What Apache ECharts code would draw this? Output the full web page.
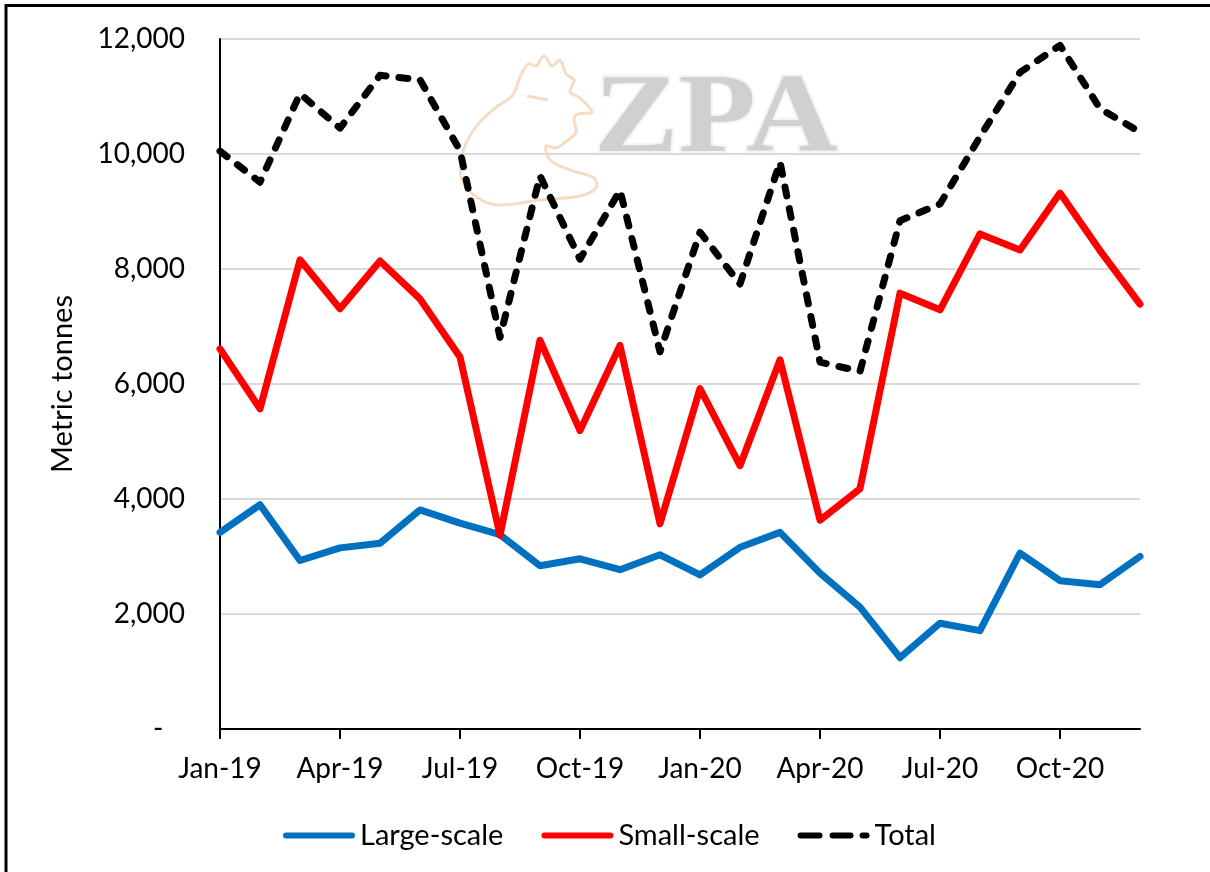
<!DOCTYPE html>
<html>
<head>
<meta charset="utf-8">
<script src="https://cdn.jsdelivr.net/npm/echarts@6/dist/echarts.min.js"></script>
<style>
html,body{margin:0;padding:0;background:#fff;}
#chart{width:1210px;height:872px;}
</style>
</head>
<body>
<div id="chart"></div>
<script>
const months = ['Jan-19','Feb-19','Mar-19','Apr-19','May-19','Jun-19','Jul-19','Aug-19','Sep-19','Oct-19','Nov-19','Dec-19',
                'Jan-20','Feb-20','Mar-20','Apr-20','May-20','Jun-20','Jul-20','Aug-20','Sep-20','Oct-20','Nov-20','Dec-20'];
const largeScale = [3420, 3900, 2930, 3150, 3230, 3810, 3580, 3380, 2840, 2960, 2770, 3030,
                    2680, 3160, 3420, 2710, 2120, 1240, 1840, 1710, 3060, 2580, 2510, 3000];
const smallScale = [6610, 5570, 8160, 7310, 8140, 7480, 6470, 3370, 6760, 5190, 6670, 3570,
                    5920, 4580, 6420, 3630, 4180, 7580, 7290, 8610, 8330, 9320, 8320, 7390];
const total = [10050, 9510, 11050, 10450, 11370, 11290, 10060, 6810, 9620, 8170, 9370, 6560,
               8640, 7740, 9860, 6380, 6220, 8840, 9130, 10300, 11420, 11890, 10790, 10380];
const seriesNames = ['Large-scale', 'Small-scale', 'Total'];
const yAxisTitle = 'Metric tonnes';

const FONT = 'Lato, "Open Sans", sans-serif';
const LINE_W = 7;
const chart = echarts.init(document.getElementById('chart'), null, {renderer: 'canvas'});

const solidIcon = 'path://M3,0 L69,0 A3,3 0 0 1 69,6 L3,6 A3,3 0 0 1 3,0 Z';
const dashIcon = 'path://M3,0 L22,0 A3,3 0 0 1 22,6 L3,6 A3,3 0 0 1 3,0 Z ' +
                 'M35,0 L53,0 A3,3 0 0 1 53,6 L35,6 A3,3 0 0 1 35,0 Z ' +
                 'M65,0 L69,0 A3,3 0 0 1 69,6 L65,6 A3,3 0 0 1 65,0 Z';

chart.setOption({
  backgroundColor: '#ffffff',
  animation: false,
  textStyle: {fontFamily: FONT},
  grid: {left: 220, right: 70, top: 39, bottom: 143},
  legend: {
    left: 278, top: 816,
    itemWidth: 72, itemHeight: 7, itemGap: 38,
    textStyle: {fontFamily: FONT, fontSize: 29, color: '#000'},
    data: [
      {name: seriesNames[0], icon: solidIcon},
      {name: seriesNames[1], icon: solidIcon},
      {name: seriesNames[2], icon: dashIcon}
    ]
  },
  xAxis: {
    type: 'category',
    data: months,
    boundaryGap: false,
    axisLine: {lineStyle: {color: '#000', width: 2}},
    axisTick: {show: true, interval: 2, length: 10, lineStyle: {color: '#000', width: 2}},
    axisLabel: {interval: 2, margin: 26, fontFamily: FONT, fontSize: 28, color: '#000'},
    splitLine: {show: false}
  },
  yAxis: {
    type: 'value',
    min: 0, max: 12000, interval: 2000,
    name: yAxisTitle,
    nameLocation: 'middle',
    nameRotate: 90,
    nameGap: 143,
    nameTextStyle: {fontFamily: FONT, fontSize: 29, color: '#000'},
    axisLine: {show: true, lineStyle: {color: '#000', width: 2}},
    axisTick: {show: false},
    axisLabel: {
      margin: 35, fontFamily: FONT, fontSize: 28, color: '#000',
      formatter: v => v === 0 ? '-   ' : v.toLocaleString('en-US')
    },
    splitLine: {show: true, lineStyle: {color: '#d9d9d9', width: 2}}
  },
  graphic: [
    {type: 'rect', z: 100, silent: true,
     shape: {x: 6, y: 5.5, width: 1400, height: 1000},
     style: {fill: 'none', stroke: '#000', lineWidth: 3}},
    {type: 'text', z: 0, silent: true, x: 594, y: 66, scaleX: 1.13,
     style: {text: 'ZPA', fontFamily: '"Liberation Serif", "DejaVu Serif", serif', fontWeight: 'bold',
             fontSize: 112, fill: '#d0d0d0', stroke: '#f4f4f4', lineWidth: 4}},
    {type: 'polyline', z: 0, silent: true,
     shape: {smooth: 0.35, points: [
       [518,82],[528,64],[536,66],[544,56],[552,66],[560,60],[566,74],[574,80],[570,92],
       [580,98],[592,112],[578,114],[574,118],[576,132],[568,140],[556,148],[546,146],
       [550,160],[570,170],[594,178],[596,188],[580,196],[540,200],[500,205],[478,198],
       [462,180],[462,154],[475,128],[495,108],[512,96],[518,82]]},
     style: {fill: 'none', stroke: '#f7dcc4', lineWidth: 3}},
    {type: 'line', z: 0, silent: true, shape: {x1: 527, y1: 96, x2: 548, y2: 100},
     style: {stroke: '#f7dcc4', lineWidth: 3}}
  ],
  series: [
    {name: seriesNames[0], type: 'line', data: largeScale, symbol: 'none', z: 3,
     lineStyle: {color: '#0070C0', width: LINE_W, join: 'round', cap: 'round'}, itemStyle: {color: '#0070C0'}},
    {name: seriesNames[1], type: 'line', data: smallScale, symbol: 'none', z: 3,
     lineStyle: {color: '#FF0000', width: LINE_W, join: 'round', cap: 'round'}, itemStyle: {color: '#FF0000'}},
    {name: seriesNames[2], type: 'line', data: total, symbol: 'none', z: 4,
     lineStyle: {color: '#000000', width: LINE_W, type: [9, 13], cap: 'round', join: 'round'}, itemStyle: {color: '#000000'}}
  ]
});
</script>
</body>
</html>
